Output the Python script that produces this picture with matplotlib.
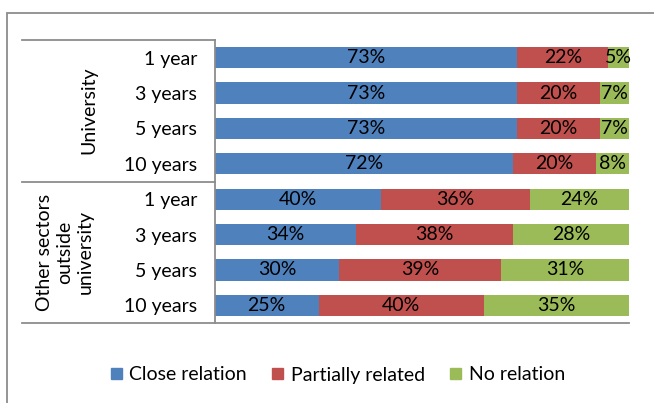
import numpy as np
import matplotlib.pyplot as plt
from matplotlib.patches import Patch, Rectangle

plt.rcParams['font.family'] = ['Lato', 'DejaVu Sans']

periods = ['1 year', '3 years', '5 years', '10 years',
           '1 year', '3 years', '5 years', '10 years']
groups = ['University', 'Other sectors\noutside\nuniversity']
close = [73, 73, 73, 72, 40, 34, 30, 25]
partial = [22, 20, 20, 20, 36, 38, 39, 40]
none_rel = [5, 7, 7, 8, 24, 28, 31, 35]
series = ['Close relation', 'Partially related', 'No relation']
colors = ['#4F81BD', '#C0504D', '#9BBB59']
line_col = '#8C8C8C'
fs = 14

W, H = 654, 403
fig = plt.figure(figsize=(W / 100, H / 100), dpi=100)
ax = fig.add_axes([215 / W, 80 / H, 414 / W, 283 / H])

y = np.arange(len(periods))
left = np.zeros(len(periods))
for vals, col in zip([close, partial, none_rel], colors):
    vals = np.array(vals, dtype=float)
    ax.barh(y, vals, left=left, height=0.6, color=col, edgecolor='none')
    for yi, l, v in zip(y, left, vals):
        ax.text(l + v / 2, yi, f'{int(v)}%', ha='center', va='center',
                fontsize=fs, color='black')
    left += vals

ax.set_xlim(0, 100)
ax.set_ylim(len(periods) - 0.5, -0.5)
ax.set_yticks(y)
ax.set_yticklabels(periods, fontsize=fs)
ax.tick_params(axis='y', length=0, pad=13)
ax.set_xticks([])
for s in ['top', 'right', 'bottom']:
    ax.spines[s].set_visible(False)
ax.spines['left'].set_color(line_col)
ax.spines['left'].set_linewidth(1.3)

# group separators and bottom line
xl = (22 - 215) / 414
for yy in [1.0, 0.5, 0.0]:
    x2 = 1.0 if yy == 0.0 else 0.0
    ax.plot([xl, x2], [yy, yy], transform=ax.transAxes, color=line_col,
            lw=1.3, clip_on=False)

ax.text((89 - 215) / 414, 1.5, groups[0], rotation=90, ha='center', va='center',
        fontsize=fs, transform=ax.get_yaxis_transform())
ax.text((65 - 215) / 414, 5.5, groups[1], rotation=90, ha='center', va='center',
        fontsize=fs, linespacing=1.25, multialignment='center',
        transform=ax.get_yaxis_transform())

# chart outer border (cropped on right and bottom)
fig.patches.append(Rectangle((7 / W, -0.1), 1.2, 1 - 13 / H + 0.1,
                             transform=fig.transFigure, fill=False,
                             edgecolor=line_col, lw=1.3))

handles = [Patch(color=c, label=s) for c, s in zip(colors, series)]
fig.legend(handles=handles, loc='center', bbox_to_anchor=(338 / W, 1 - 375 / H),
           ncol=3, frameon=False, fontsize=fs, handlelength=0.55,
           handleheight=0.55, handletextpad=0.4, columnspacing=1.3)

fig.savefig('out.png', dpi=100)
